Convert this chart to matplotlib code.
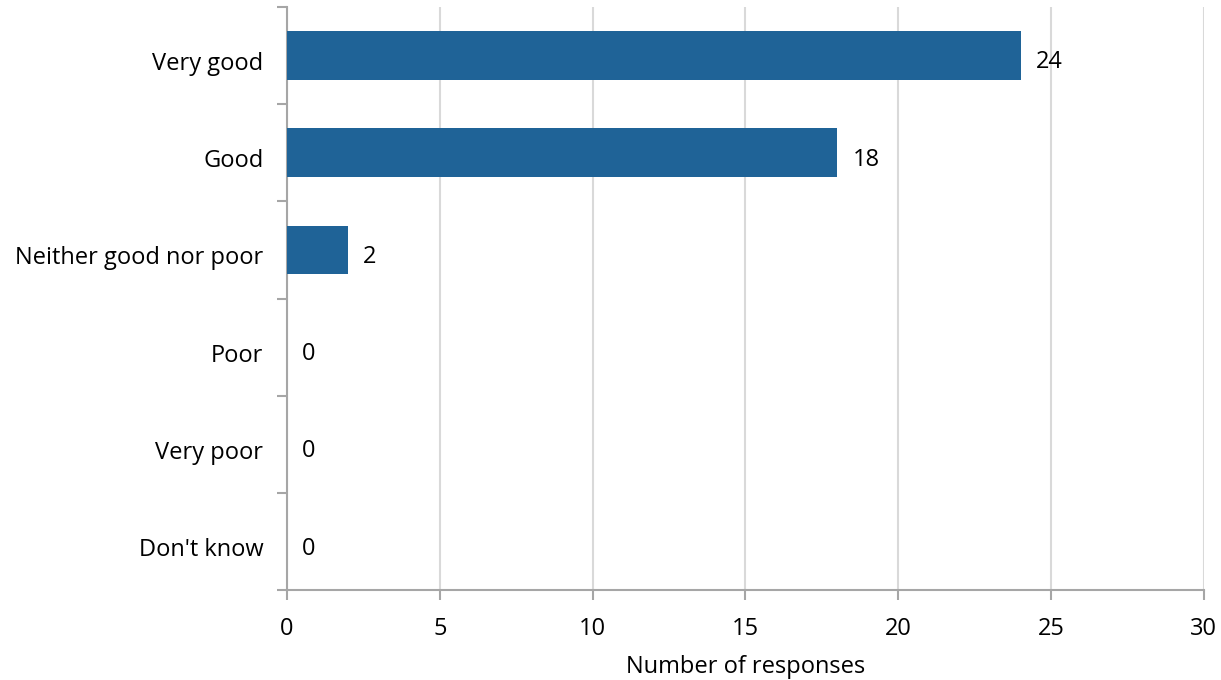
import matplotlib
matplotlib.use("Agg")
import matplotlib.pyplot as plt
import matplotlib.transforms as mtransforms

categories = ["Very good", "Good", "Neither good nor poor", "Poor", "Very poor", "Don't know"]
responses = [24, 18, 2, 0, 0, 0]
xticks = [0, 5, 10, 15, 20, 25, 30]

plt.rcParams['font.family'] = ['Open Sans', 'DejaVu Sans']

axis_grey = '#a6a6a6'
bar_blue = '#1f6397'
fs = 17

fig = plt.figure(figsize=(12.21, 6.80), dpi=100)
ax = fig.add_axes([0.235, 0.132, 0.751, 0.858])

ypos = list(range(len(categories)))
ax.barh(ypos, responses, height=0.5, color=bar_blue, zorder=3)
for y, v in zip(ypos, responses):
    ax.annotate(str(v), (v, y), xytext=(11, -5), textcoords='offset points',
                va='center', ha='left', fontsize=fs, color='black')

ax.set_ylim(len(categories) - 0.5, -0.5)
ax.set_xlim(0, 30)
ax.set_xticks(xticks)
ax.set_yticks(ypos)
ax.set_yticklabels(categories)
# minor ticks at the category boundaries
ax.set_yticks([i - 0.5 for i in range(len(categories) + 1)], minor=True)
ax.tick_params(axis='y', which='major', length=0, pad=17, labelsize=fs)
ax.tick_params(axis='y', which='minor', length=7, width=1.5, color=axis_grey, direction='out')
ax.tick_params(axis='x', length=7, width=1.5, color=axis_grey, pad=12, labelsize=fs)

# nudge the category labels down a little, like the original
shift = mtransforms.ScaledTranslation(0, -4 / 72, fig.dpi_scale_trans)
for lab in ax.get_yticklabels():
    lab.set_transform(lab.get_transform() + shift)

ax.xaxis.grid(True, color='#d9d9d9', linewidth=1.5, zorder=0)
ax.set_axisbelow(True)
for side in ['top', 'right']:
    ax.spines[side].set_visible(False)
for side in ['left', 'bottom']:
    ax.spines[side].set_color(axis_grey)
    ax.spines[side].set_linewidth(1.5)

ax.set_xlabel("Number of responses", fontsize=fs, labelpad=10)

fig.savefig("out.png", dpi=100)
